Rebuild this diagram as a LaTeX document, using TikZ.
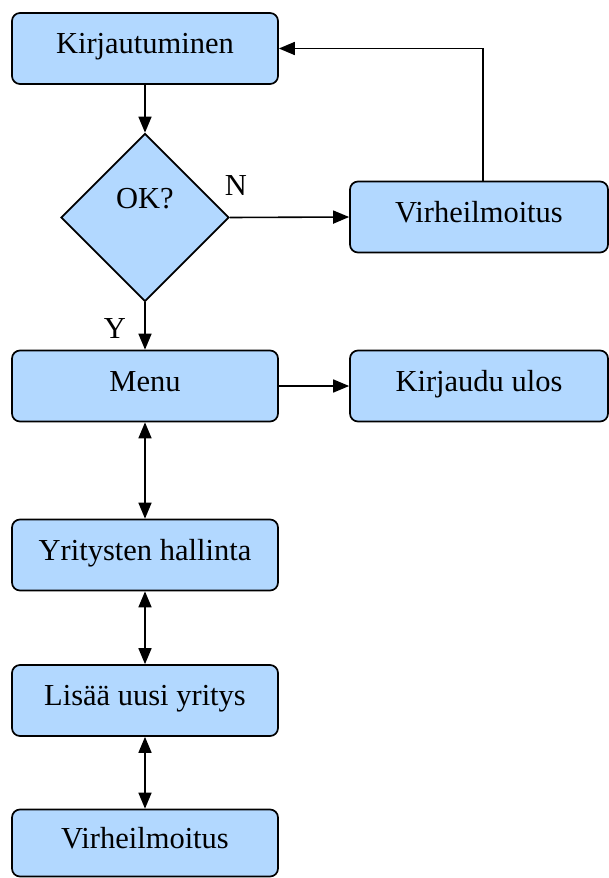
\documentclass[tikz,border=0pt]{standalone}
\usepackage{fontspec}
\setmainfont{Liberation Serif}
\usetikzlibrary{shapes.geometric,arrows.meta}
\definecolor{boxblue}{RGB}{178,216,255}
\begin{document}
\begin{tikzpicture}[x=1pt,y=-1pt,
  txt/.style={font=\fontsize{30.5}{36}\selectfont, inner sep=0pt, text height=20pt, text depth=10pt},
  flowbox/.style={txt, draw=black, line width=1.7pt, fill=boxblue, rounded corners=8pt,
    minimum width=266pt, minimum height=71pt},
  sidebox/.style={flowbox, minimum width=258pt},
  decision/.style={txt, diamond, aspect=1, draw=black, line width=1.7pt, fill=boxblue,
    minimum width=168pt, minimum height=168pt, text depth=38pt},
  arr/.style={line width=1.6pt, -{Triangle[length=16pt,width=13pt]}},
  dblarr/.style={line width=1.6pt, {Triangle[length=16pt,width=13pt]}-{Triangle[length=16pt,width=13pt]}}
]
\useasboundingbox (0,0) rectangle (609,878);

% main column
\node[flowbox] (kirj) at (145,48.5) {Kirjautuminen};
\node[decision] (ok) at (145,217.5) {OK?};
\node[flowbox] (menu) at (145,386) {Menu};
\node[flowbox] (yrit) at (145,555) {Yritysten hallinta};
\node[flowbox] (lisaa) at (145,700.5) {Lisää uusi yritys};
\node[flowbox, minimum height=67pt] (virhe2) at (145,843) {Virheilmoitus};

% right column
\node[sidebox] (virhe) at (479,217) {Virheilmoitus};
\node[sidebox] (ulos) at (479,386) {Kirjaudu ulos};

% branch labels
\node[txt] (labN) at (236,190) {N};
\node[txt] (labY) at (115,333) {Y};

% connectors
\draw[arr] (kirj.south) -- (ok.north);
\draw[arr] (ok.east) -- (virhe.west);
\draw[arr] ([xshift=4pt]virhe.north) |- (kirj.east);
\draw[arr] (ok.south) -- (menu.north);
\draw[arr] (menu.east) -- (ulos.west);
\draw[dblarr] (menu.south) -- (yrit.north);
\draw[dblarr] (yrit.south) -- (lisaa.north);
\draw[dblarr] (lisaa.south) -- (virhe2.north);
\end{tikzpicture}
\end{document}
